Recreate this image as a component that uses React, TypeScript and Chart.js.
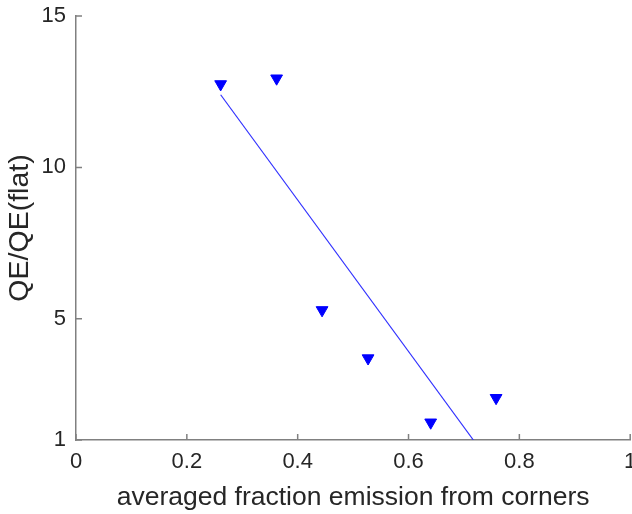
import React, { useEffect, useRef } from "react";
import { Chart, registerables } from "chart.js";

Chart.register(...registerables);

const pointsX = [0.261, 0.362, 0.444, 0.527, 0.640, 0.758];
const pointsY = [12.75, 12.94, 5.29, 3.70, 1.58, 2.39];
const fitX = [0.261, 0.717];
const fitY = [12.4, 1.0];
const xTicks = [0, 0.2, 0.4, 0.6, 0.8, 1];
const yTicks = [1, 5, 10, 15];
const xTitle = "averaged fraction emission from corners";
const yTitle = "QE/QE(flat)";

const FONT = "'Liberation Sans', Arial, sans-serif";
const TEXT = "#262626";
const AXIS = "#808080";
const CANVAS_W = 638;

const innerTicks = {
  id: "innerTicks",
  afterDatasetsDraw(chart: any) {
    const ctx = chart.ctx;
    const xs = chart.scales.x;
    const ys = chart.scales.y;
    const area = chart.chartArea;
    ctx.save();
    ctx.strokeStyle = AXIS;
    ctx.lineWidth = 1.5;
    ctx.beginPath();
    xTicks.forEach((v) => {
      const px = xs.getPixelForValue(v);
      ctx.moveTo(px, area.bottom);
      ctx.lineTo(px, area.bottom - 6);
    });
    yTicks.forEach((v) => {
      const py = ys.getPixelForValue(v);
      ctx.moveTo(area.left, py);
      ctx.lineTo(area.left + 6, py);
    });
    ctx.stroke();
    ctx.restore();
  },
};

export default function App() {
  const ref = useRef<HTMLCanvasElement>(null);
  useEffect(() => {
    if (!ref.current) return;
    const chart = new Chart(ref.current, {
      type: "scatter",
      data: {
        datasets: [
          {
            type: "line",
            data: fitX.map((x, i) => ({ x, y: fitY[i] })),
            borderColor: "#3030ff",
            borderWidth: 1.2,
            pointRadius: 0,
            fill: false,
          } as any,
          {
            type: "scatter",
            data: pointsX.map((x, i) => ({ x, y: pointsY[i] })),
            pointStyle: "triangle",
            rotation: 180,
            pointRadius: 6.8,
            backgroundColor: "#0000ff",
            borderColor: "#0000ff",
            borderWidth: 1,
          } as any,
        ],
      },
      options: {
        animation: false,
        responsive: false,
        devicePixelRatio: 1,
        layout: { padding: { top: 16, right: 0, left: 0, bottom: 0 } },
        plugins: { legend: { display: false }, tooltip: { enabled: false } },
        scales: {
          x: {
            type: "linear",
            min: 0,
            max: 1,
            afterBuildTicks: (s: any) => {
              s.ticks = xTicks.map((v) => ({ value: v }));
            },
            afterFit: (s: any) => {
              s.height = 74;
              s.paddingLeft = 0;
              s.paddingRight = 0;
            },
            grid: { display: false, drawTicks: false },
            border: { display: true, color: AXIS, width: 1.5 },
            ticks: {
              color: TEXT,
              font: { family: FONT, size: 22 },
              padding: 9,
              maxRotation: 0,
              callback: (v: any) => String(v),
            },
            title: {
              display: true,
              text: xTitle,
              color: TEXT,
              font: { family: FONT, size: 26.5 },
              padding: { top: 0, bottom: 0 },
            },
          },
          y: {
            type: "linear",
            min: 1,
            max: 15,
            afterBuildTicks: (s: any) => {
              s.ticks = yTicks.map((v) => ({ value: v }));
            },
            afterFit: (s: any) => {
              s.width = 76;
              s.paddingTop = 0;
              s.paddingBottom = 0;
            },
            grid: { display: false, drawTicks: false },
            border: { display: true, color: AXIS, width: 1.5 },
            ticks: {
              color: TEXT,
              font: { family: FONT, size: 22 },
              padding: 10,
              callback: (v: any) => String(v),
            },
            title: {
              display: true,
              text: yTitle,
              color: TEXT,
              font: { family: FONT, size: 28.5 },
              padding: { top: 3, bottom: 0 },
            },
          },
        },
      },
      plugins: [innerTicks],
    } as any);
    return () => chart.destroy();
  }, []);
  return (
    <div
      style={{
        position: "fixed",
        left: 0,
        top: 0,
        width: 632,
        height: 514,
        overflow: "hidden",
        background: "#fff",
      }}
    >
      <canvas ref={ref} width={CANVAS_W} height={514} style={{ width: CANVAS_W, height: 514 }} />
    </div>
  );
}
